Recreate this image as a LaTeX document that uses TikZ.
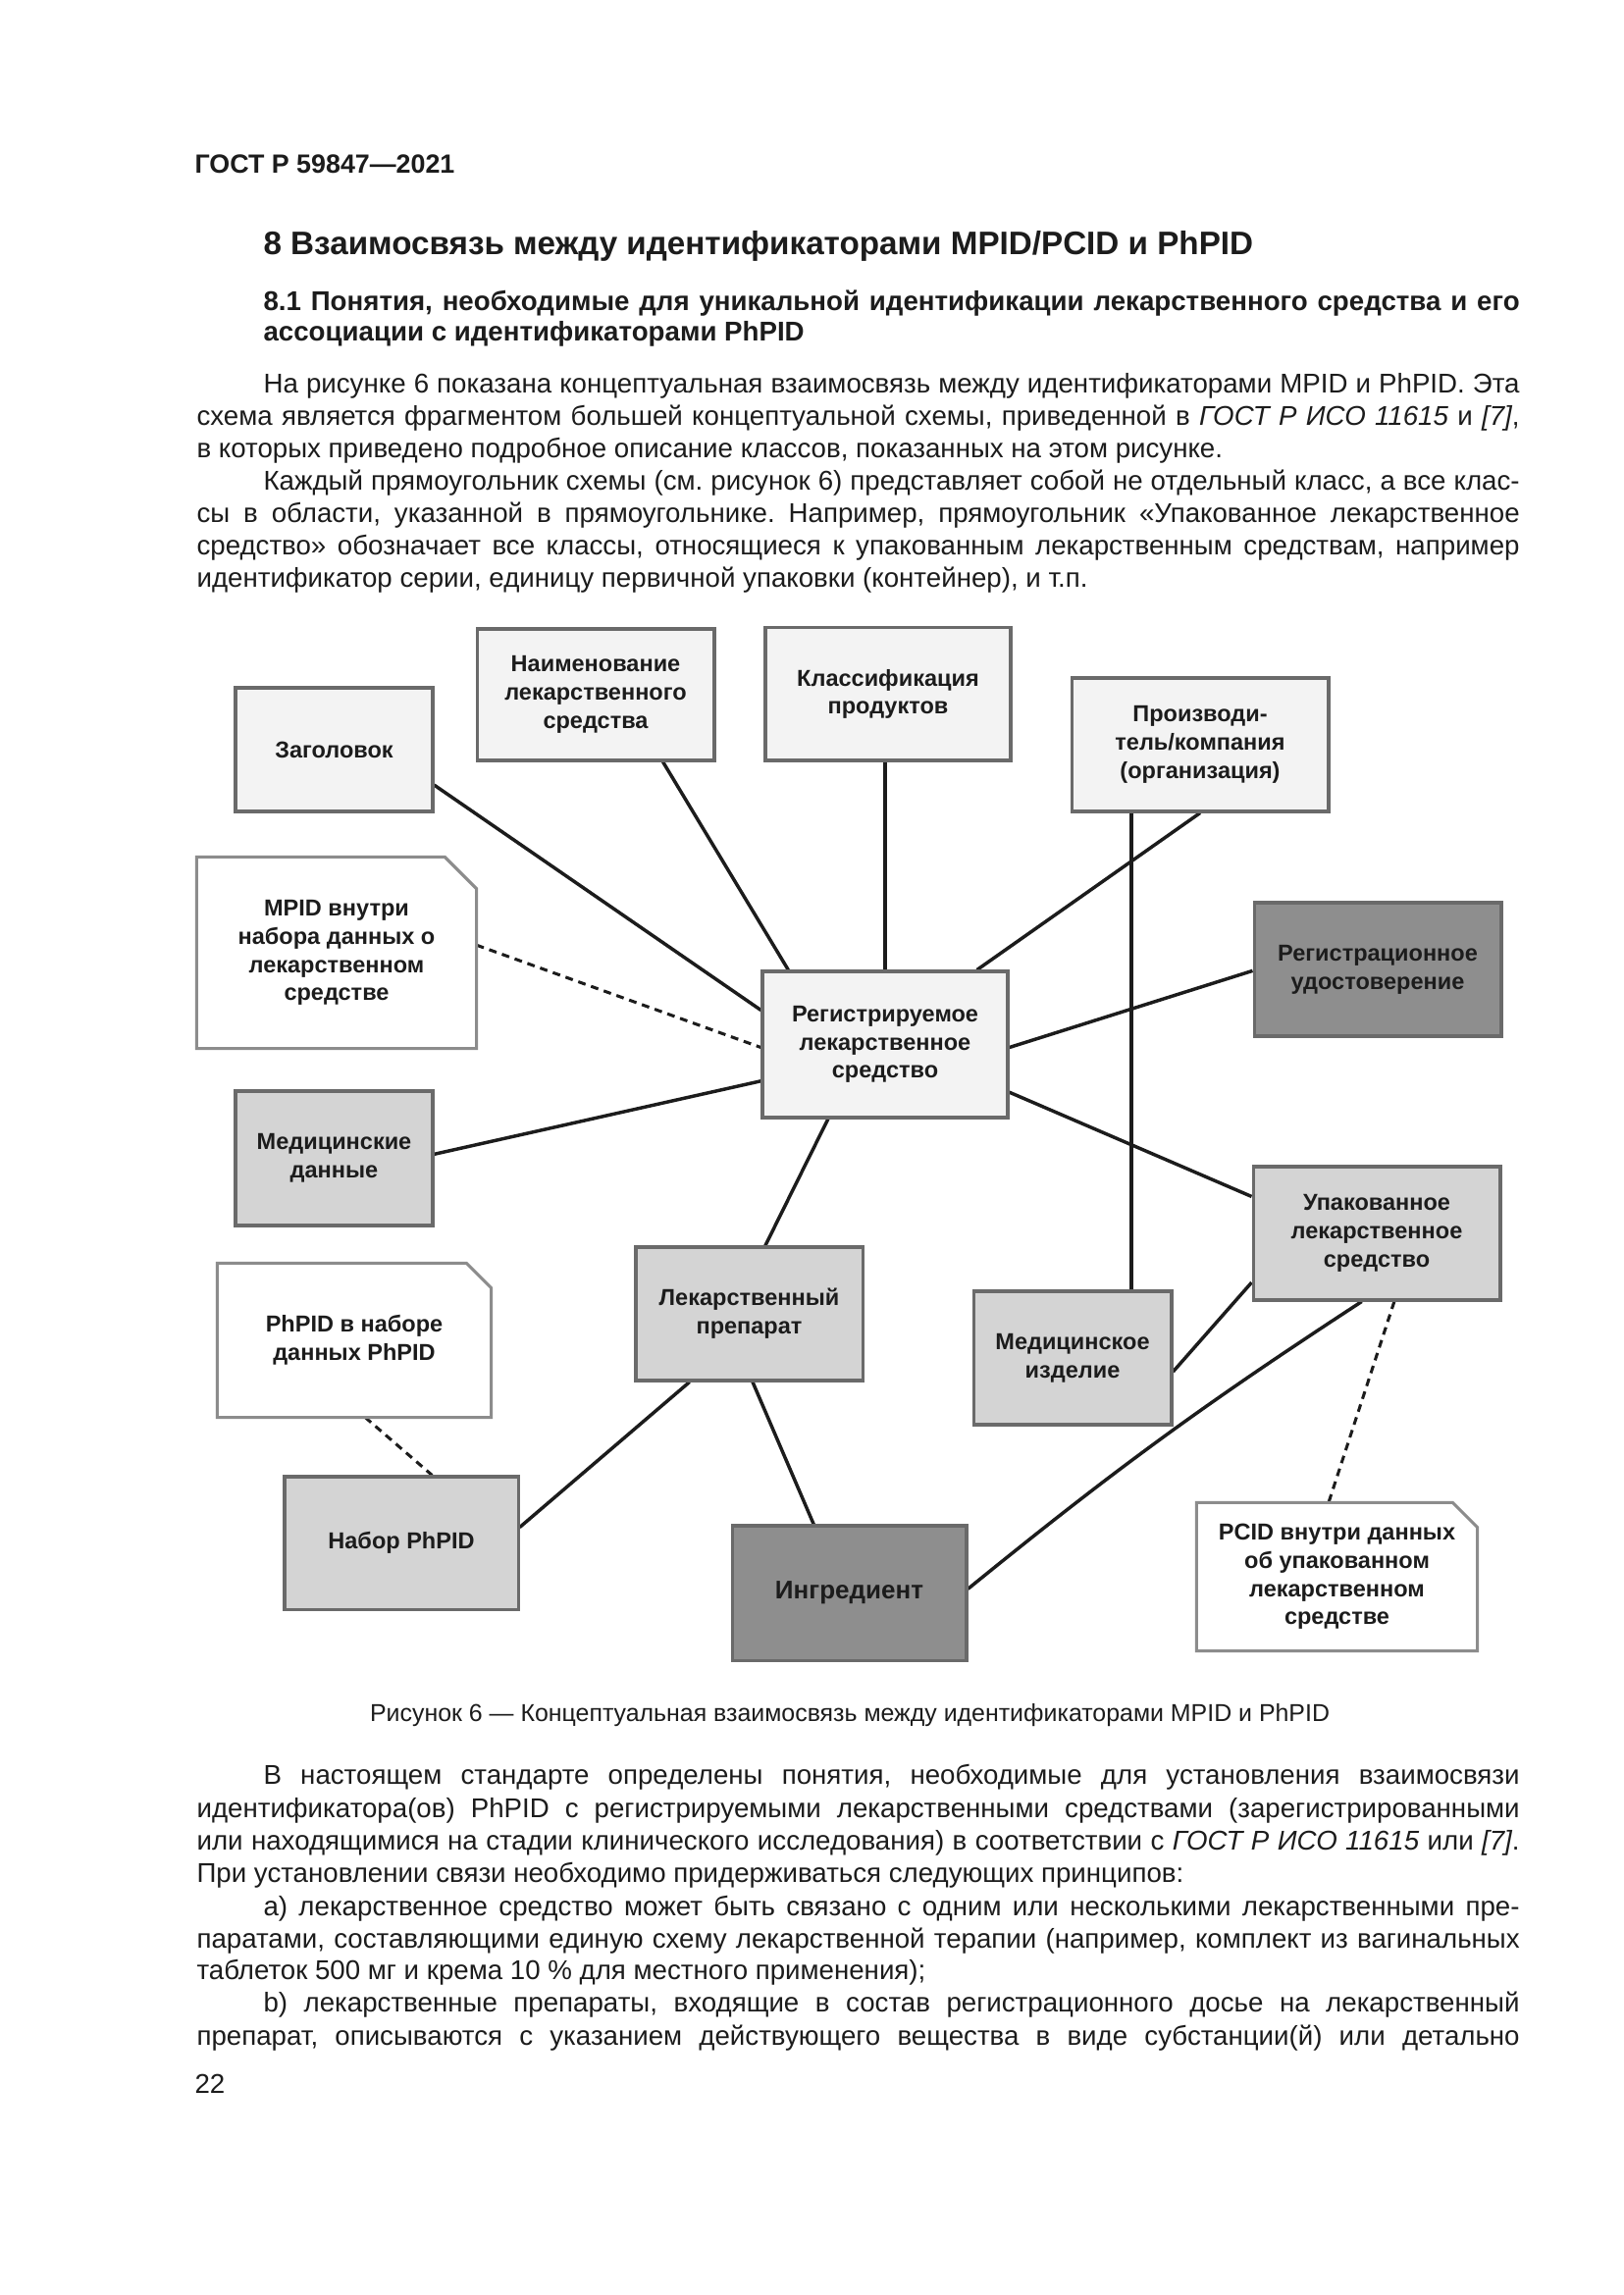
\documentclass[tikz,border=0pt]{standalone}
\usepackage{fontspec}
\setmainfont{Liberation Sans}
\usetikzlibrary{calc,backgrounds}
\definecolor{lightfill}{HTML}{F3F3F3}
\definecolor{midfill}{HTML}{D4D4D4}
\definecolor{darkfill}{HTML}{8E8E8E}
\definecolor{boxline}{HTML}{6A6A6A}
\definecolor{notegray}{HTML}{8C8C8C}
\definecolor{ink}{HTML}{1C1C1C}
\frenchspacing
\begin{document}
\begin{tikzpicture}[x=0.127mm,y=-0.127mm,
  boxtext/.style={inner sep=0pt, align=center, text=ink, font=\fontsize{8.5}{10.4}\selectfont\bfseries},
  box/.style={boxtext, draw=boxline, line width=1.1pt},
  lightbox/.style={box, fill=lightfill},
  midbox/.style={box, fill=midfill},
  darkbox/.style={box, fill=darkfill},
  notebox/.style={boxtext},
  notepath/.style={draw=notegray, fill=white, line width=1.1pt},
  link/.style={draw=ink, line width=1.25pt},
  dlink/.style={draw=ink, line width=1.1pt, dash pattern=on 1mm off 0.75mm},
  body/.style={anchor=base west, inner sep=0pt, text=ink, font=\fontsize{10}{12}\selectfont},
  bodyb/.style={body, font=\fontsize{10}{12}\selectfont\bfseries},
]
\useasboundingbox (0,0) rectangle (1654,2339);

% ---------- page text ----------
\node[bodyb, font=\fontsize{9.7}{12}\selectfont\bfseries] (hdr) at (198,177) {ГОСТ Р 59847—2021};
\node[bodyb, font=\fontsize{12}{14}\selectfont\bfseries] (ttl) at (268,260) {8 Взаимосвязь между идентификаторами MPID/PCID и PhPID};
\node[bodyb] (s1) at (268,317) {\makebox[162.56mm][s]{8.1 Понятия, необходимые для уникальной идентификации лекарственного средства и его}};
\node[bodyb] (s2) at (268,348) {ассоциации с идентификаторами PhPID};

\node[body] (p1) at (268,401) {\makebox[162.56mm][s]{На рисунке 6 показана концептуальная взаимосвязь между идентификаторами MPID и PhPID. Эта}};
\node[body] (p2) at (200,434) {\makebox[171.2mm][s]{схема является фрагментом большей концептуальной схемы, приведенной в \textit{ГОСТ Р ИСО 11615} и \textit{[7]},}};
\node[body] (p3) at (200,467) {в которых приведено подробное описание классов, показанных на этом рисунке.};
\node[body] (p4) at (268,500) {\makebox[162.56mm][s]{Каждый прямоугольник схемы (см. рисунок 6) представляет собой не отдельный класс, а все клас-}};
\node[body] (p5) at (200,533) {\makebox[171.2mm][s]{сы в области, указанной в прямоугольнике. Например, прямоугольник «Упакованное лекарственное}};
\node[body] (p6) at (200,566) {\makebox[171.2mm][s]{средство» обозначает все классы, относящиеся к упакованным лекарственным средствам, например}};
\node[body] (p7) at (200,599) {идентификатор серии, единицу первичной упаковки (контейнер), и т.п.};

\node[body, anchor=base, font=\fontsize{9}{11}\selectfont] (cap) at (866,1754) {Рисунок 6 — Концептуальная взаимосвязь между идентификаторами MPID и PhPID};

\node[body] (b1) at (268,1818) {\makebox[162.56mm][s]{В настоящем стандарте определены понятия, необходимые для установления взаимосвязи}};
\node[body] (b2) at (200,1852) {\makebox[171.2mm][s]{идентификатора(ов) PhPID с регистрируемыми лекарственными средствами (зарегистрированными}};
\node[body] (b3) at (200,1885) {\makebox[171.2mm][s]{или находящимися на стадии клинического исследования) в соответствии с \textit{ГОСТ Р ИСО 11615} или \textit{[7]}.}};
\node[body] (b4) at (200,1918) {При установлении связи необходимо придерживаться следующих принципов:};
\node[body] (b5) at (268,1952) {\makebox[162.56mm][s]{a) лекарственное средство может быть связано с одним или несколькими лекарственными пре-}};
\node[body] (b6) at (200,1985) {\makebox[171.2mm][s]{паратами, составляющими единую схему лекарственной терапии (например, комплект из вагинальных}};
\node[body] (b7) at (200,2017) {таблеток 500 мг и крема 10 \% для местного применения);};
\node[body] (b8) at (268,2050) {\makebox[162.56mm][s]{b) лекарственные препараты, входящие в состав регистрационного досье на лекарственный}};
\node[body] (b9) at (200,2084) {\makebox[171.2mm][s]{препарат, описываются с указанием действующего вещества в виде субстанции(й) или детально}};

\node[body] (pg) at (198,2133) {22};

% ---------- diagram nodes ----------
\node[lightbox, minimum width=25.53mm, minimum height=16.0mm] (zag) at (340.5,764) {Заголовок};
\node[lightbox, minimum width=30.73mm, minimum height=17.02mm] (naim) at (607,708) {Наименование\\лекарственного\\средства};
\node[lightbox, minimum width=31.75mm, minimum height=17.15mm] (klass) at (905,707.5) {Классификация\\продуктов};
\node[lightbox, minimum width=33.27mm, minimum height=17.27mm] (proizv) at (1223,759) {Производи-\\тель/компания\\(организация)};
\node[notebox, minimum width=36.07mm, minimum height=24.64mm] (mpid) at (343,971) {MPID внутри\\набора данных о\\лекарственном\\средстве};
\node[lightbox, minimum width=31.75mm, minimum height=18.92mm] (reg) at (902,1064.5) {Регистрируемое\\лекарственное\\средство};
\node[darkbox, minimum width=32.0mm, minimum height=17.27mm] (regud) at (1404,988) {Регистрационное\\удостоверение};
\node[midbox, minimum width=25.53mm, minimum height=17.4mm] (medd) at (340.5,1180.5) {Медицинские\\данные};
\node[midbox, minimum width=32.0mm, minimum height=17.27mm] (upak) at (1403,1257) {Упакованное\\лекарственное\\средство};
\node[notebox, minimum width=35.31mm, minimum height=19.81mm] (phpid) at (361,1366) {PhPID в наборе\\данных PhPID};
\node[midbox, minimum width=29.34mm, minimum height=17.27mm] (lekprep) at (763.5,1339) {Лекарственный\\препарат};
\node[midbox, minimum width=25.65mm, minimum height=17.27mm] (medizd) at (1093,1384) {Медицинское\\изделие};
\node[midbox, minimum width=30.23mm, minimum height=17.15mm] (nabor) at (409,1572.5) {Набор PhPID};
\node[darkbox, minimum width=30.35mm, minimum height=17.4mm, font=\fontsize{9.4}{11}\selectfont\bfseries] (ingr) at (865.5,1623.5) {Ингредиент};
\node[notebox, minimum width=36.2mm, minimum height=19.05mm] (pcid) at (1362.5,1607) {PCID внутри данных\\об упакованном\\лекарственном\\средстве};

\coordinate (vx) at (1153,0);

% ---------- background: page, notes, connectors ----------
\begin{scope}[on background layer]
\fill[white] (0,0) rectangle (1654,2339);
% connectors
\draw[link] ($(zag.north east)!0.78!(zag.south east)$) -- ($(reg.north west)!0.27!(reg.south west)$);
\draw[link] ($(naim.south west)!0.78!(naim.south east)$) -- ($(reg.north west)!0.11!(reg.north east)$);
\draw[link] (reg.north) -- (reg.north |- klass.south);
\draw[link] (proizv.south) -- ($(reg.north west)!0.87!(reg.north east)$);
\draw[link] (proizv.south -| vx) -- (medizd.north -| vx);
\draw[dlink] ($(mpid.north east)!0.46!(mpid.south east)$) -- ($(reg.north west)!0.52!(reg.south west)$);
\draw[link] ($(medd.north east)!0.47!(medd.south east)$) -- ($(reg.north west)!0.745!(reg.south west)$);
\draw[link] ($(reg.north east)!0.52!(reg.south east)$) -- ($(regud.north west)!0.51!(regud.south west)$);
\draw[link] ($(reg.north east)!0.82!(reg.south east)$) -- ($(upak.north west)!0.23!(upak.south west)$);
\draw[link] ($(reg.south west)!0.27!(reg.south east)$) -- ($(lekprep.north west)!0.57!(lekprep.north east)$);
\draw[link] ($(medizd.north east)!0.60!(medizd.south east)$) -- ($(upak.north west)!0.86!(upak.south west)$);
\draw[link] ($(upak.south west)!0.44!(upak.south east)$) to[bend right=3] ($(ingr.north east)!0.47!(ingr.south east)$);
\draw[dlink] ($(upak.south west)!0.57!(upak.south east)$) -- ($(pcid.north west)!0.47!(pcid.north east)$);
\draw[link] ($(lekprep.south west)!0.24!(lekprep.south east)$) -- ($(nabor.north east)!0.385!(nabor.south east)$);
\draw[link] ($(lekprep.south west)!0.515!(lekprep.south east)$) -- ($(ingr.north west)!0.35!(ingr.north east)$);
\draw[dlink] ($(phpid.south west)!0.54!(phpid.south east)$) -- ($(nabor.north west)!0.63!(nabor.north east)$);
% note shapes
\draw[notepath] (mpid.south west) -- (mpid.north west) -- ([xshift=-4.1mm]mpid.north east) -- ([yshift=-4.1mm]mpid.north east) -- (mpid.south east) -- cycle;
\draw[notepath] (phpid.south west) -- (phpid.north west) -- ([xshift=-3.2mm]phpid.north east) -- ([yshift=-3.2mm]phpid.north east) -- (phpid.south east) -- cycle;
\draw[notepath] (pcid.south west) -- (pcid.north west) -- ([xshift=-3.2mm]pcid.north east) -- ([yshift=-3.2mm]pcid.north east) -- (pcid.south east) -- cycle;
\end{scope}
\end{tikzpicture}
\end{document}
